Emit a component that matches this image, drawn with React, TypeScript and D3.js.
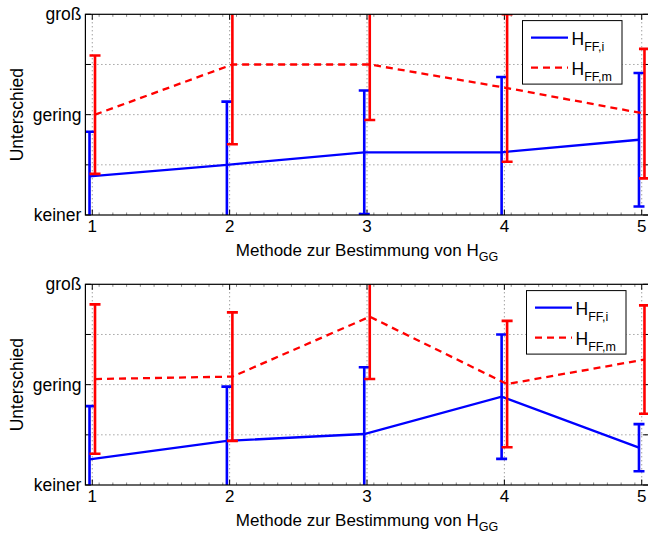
import React from 'react';
import * as d3 from 'd3';

// Methode 1..5, zwei Reihen je Panel (Mittelwert + Streuung)
const methods = [1, 2, 3, 4, 5];
const yTicks = [0, 0.5, 1, 1.5, 2];
const yTickLabels = ['keiner', '', 'gering', '', 'groß'];

const topMeanI = [0.385, 0.5, 0.625, 0.625, 0.75];
const topErrI = [0.445, 0.63, 0.615, 0.75, 0.665];
const topMeanM = [1.0, 1.5, 1.5, 1.265, 1.01];
const topErrM = [0.59, 0.795, 0.553, 0.735, 0.645];

const botMeanI = [0.256, 0.44, 0.508, 0.88, 0.372];
const botErrI = [0.53, 0.54, 0.665, 0.62, 0.235];
const botMeanM = [1.056, 1.08, 1.677, 1.006, 1.25];
const botErrM = [0.744, 0.64, 0.62, 0.63, 0.54];

const W = 648;
const H = 533;
const FONT = '"Liberation Sans", Arial, Helvetica, sans-serif';
const BLUE = '#0000ff';
const RED = '#ff0000';

type PanelProps = {
  id: string;
  top: number;
  bottom: number;
  meanI: number[];
  errI: number[];
  meanM: number[];
  errM: number[];
  legendX: number;
};

const Panel = ({ id, top, bottom, meanI, errI, meanM, errM, legendX }: PanelProps) => {
  const left = 85.4;
  const right = 648.6;
  const x = d3.scaleLinear().domain([0.95, 5.05]).range([left, right]);
  const y = d3.scaleLinear().domain([0, 2]).range([bottom, top]);
  const off = 0.02;
  const cap = 5.5;

  const series = [
    { mean: meanI, err: errI, color: BLUE, dx: -off, dash: undefined as string | undefined },
    { mean: meanM, err: errM, color: RED, dx: off, dash: '7,5' },
  ];

  const minorX = d3.range(1, 50).map(d => 0.95 + d * 0.1).filter(v => v < 5.05);

  return (
    <g>
      <defs>
        <clipPath id={'clip' + id}>
          <rect x={left} y={top} width={right - left} height={bottom - top} />
        </clipPath>
      </defs>
      {/* grid */}
      {methods.map(m => (
        <line key={'gx' + m} x1={x(m)} x2={x(m)} y1={top} y2={bottom}
          stroke="#777" strokeWidth={1} strokeDasharray="1,3" />
      ))}
      {yTicks.slice(1, -1).map(v => (
        <line key={'gy' + v} x1={left} x2={right} y1={y(v)} y2={y(v)}
          stroke="#777" strokeWidth={1} strokeDasharray="1,3" />
      ))}
      {/* minor ticks */}
      {minorX.map(v => (
        <g key={'mx' + v}>
          <line x1={x(v)} x2={x(v)} y1={bottom} y2={bottom - 2.5} stroke="#666" strokeWidth={0.8} />
          <line x1={x(v)} x2={x(v)} y1={top} y2={top + 2.5} stroke="#666" strokeWidth={0.8} />
        </g>
      ))}
      {/* major ticks */}
      {methods.map(m => (
        <g key={'tx' + m}>
          <line x1={x(m)} x2={x(m)} y1={bottom} y2={bottom - 5.5} stroke="#000" />
          <line x1={x(m)} x2={x(m)} y1={top} y2={top + 5.5} stroke="#000" />
          <text x={x(m)} y={bottom + 16.5} textAnchor="middle" fontSize={17} fontFamily={FONT}>{m}</text>
        </g>
      ))}
      {yTicks.map((v, i) => (
        <g key={'ty' + v}>
          <line x1={left} x2={left + 5.5} y1={y(v)} y2={y(v)} stroke="#000" />
          <line x1={right} x2={right - 5.5} y1={y(v)} y2={y(v)} stroke="#000" />
          <text x={left - 4} y={y(v)} dy="0.35em" textAnchor="end" fontSize={17.5} fontFamily={FONT}>{yTickLabels[i]}</text>
        </g>
      ))}
      {/* data */}
      <g clipPath={`url(#clip${id})`}>
        {series.map((s, si) => {
          const path = d3
            .line<number>()
            .x((_, i) => x(methods[i] + s.dx))
            .y(d => y(d))(s.mean);
          return (
            <g key={'s' + si}>
              {s.mean.map((m, i) => {
                const cx = x(methods[i] + s.dx);
                const lo = y(m - s.err[i]);
                const hi = y(m + s.err[i]);
                return (
                  <g key={i} stroke={s.color} strokeWidth={2.6} fill="none">
                    <line x1={cx} x2={cx} y1={lo} y2={hi} />
                    <line x1={cx - cap} x2={cx + cap} y1={lo} y2={lo} />
                    <line x1={cx - cap} x2={cx + cap} y1={hi} y2={hi} />
                  </g>
                );
              })}
              <path d={path || ''} fill="none" stroke={s.color} strokeWidth={2.3}
                strokeDasharray={s.dash} />
            </g>
          );
        })}
      </g>
      {/* box */}
      <rect x={left} y={top} width={right - left} height={bottom - top} fill="none" stroke="#000" strokeWidth={1.2} />
      {/* axis titles */}
      <text x={(left + right) / 2} y={bottom + 41} textAnchor="middle" fontSize={17} fontFamily={FONT}>
        Methode zur Bestimmung von H<tspan dy={5} fontSize={12.5}>GG</tspan>
      </text>
      <text transform={`translate(23,${(top + bottom) / 2}) rotate(-90)`} textAnchor="middle" fontSize={17.5} fontFamily={FONT}>
        Unterschied
      </text>
      {/* legend */}
      <g transform={`translate(${legendX},${top + 6.3})`}>
        <rect x={0} y={0} width={99.5} height={63.5} fill="#fff" stroke="#000" strokeWidth={1} />
        <line x1={8.5} x2={45.5} y1={17} y2={17} stroke={BLUE} strokeWidth={2.3} />
        <line x1={8.5} x2={45.5} y1={47} y2={47} stroke={RED} strokeWidth={2.3} strokeDasharray="7,5" />
        <text x={49} y={24} fontSize={17.5} fontFamily={FONT}>
          H<tspan dy={6} fontSize={12.5}>FF,i</tspan>
        </text>
        <text x={49} y={54} fontSize={17.5} fontFamily={FONT}>
          H<tspan dy={6} fontSize={12.5}>FF,m</tspan>
        </text>
      </g>
    </g>
  );
};

export default function App() {
  return (
    <svg width={W} height={H} style={{ position: 'absolute', left: 0, top: 0, background: '#fff' }}>
      <Panel id="a" top={14.3} bottom={215} meanI={topMeanI} errI={topErrI}
        meanM={topMeanM} errM={topErrM} legendX={522.5} />
      <Panel id="b" top={284.3} bottom={485} meanI={botMeanI} errI={botErrI}
        meanM={botMeanM} errM={botErrM} legendX={526.5} />
    </svg>
  );
}
